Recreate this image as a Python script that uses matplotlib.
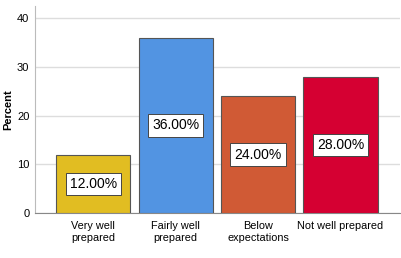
import matplotlib
matplotlib.use("Agg")
import matplotlib.pyplot as plt

categories = ["Very well\nprepared", "Fairly well\nprepared", "Below\nexpectations", "Not well prepared"]
percents = [12.0, 36.0, 24.0, 28.0]
bar_colors = ["#E1BD22", "#5294E2", "#D05A35", "#D50032"]
y_ticks = [0, 10, 20, 30, 40]

plt.rcParams["font.family"] = "Liberation Sans"

fig = plt.figure(figsize=(4.01, 2.58), dpi=100)
ax = fig.add_axes([0.087, 0.174, 0.91, 0.803])

x = range(len(categories))
ax.bar(x, percents, width=0.9, color=bar_colors, edgecolor="#555555", linewidth=0.8, zorder=3)

for xi, v in zip(x, percents):
    ax.text(xi, v / 2, f"{v:.2f}%", ha="center", va="center", fontsize=10, zorder=4,
            bbox=dict(boxstyle="square,pad=0.3", facecolor="white", edgecolor="#444444", linewidth=0.7))

ax.set_xlim(-0.71, 3.72)
ax.set_ylim(0, 42.5)
ax.set_yticks(y_ticks)
ax.set_xticks(list(x))
ax.set_xticklabels(categories, fontsize=7.8, linespacing=1.15)
ax.tick_params(axis="y", labelsize=8, length=0, pad=4)
ax.tick_params(axis="x", length=0, pad=6)
ax.yaxis.grid(True, color="#DDDDDD", linewidth=1.0, zorder=0)
ax.set_ylabel("Percent", fontsize=8, fontweight="bold")
ax.yaxis.set_label_coords(-0.058, 0.5)

for side in ["top", "right"]:
    ax.spines[side].set_visible(False)
ax.spines["left"].set_color("#BBBBBB")
ax.spines["bottom"].set_color("#888888")

fig.savefig("out.png", dpi=100)
